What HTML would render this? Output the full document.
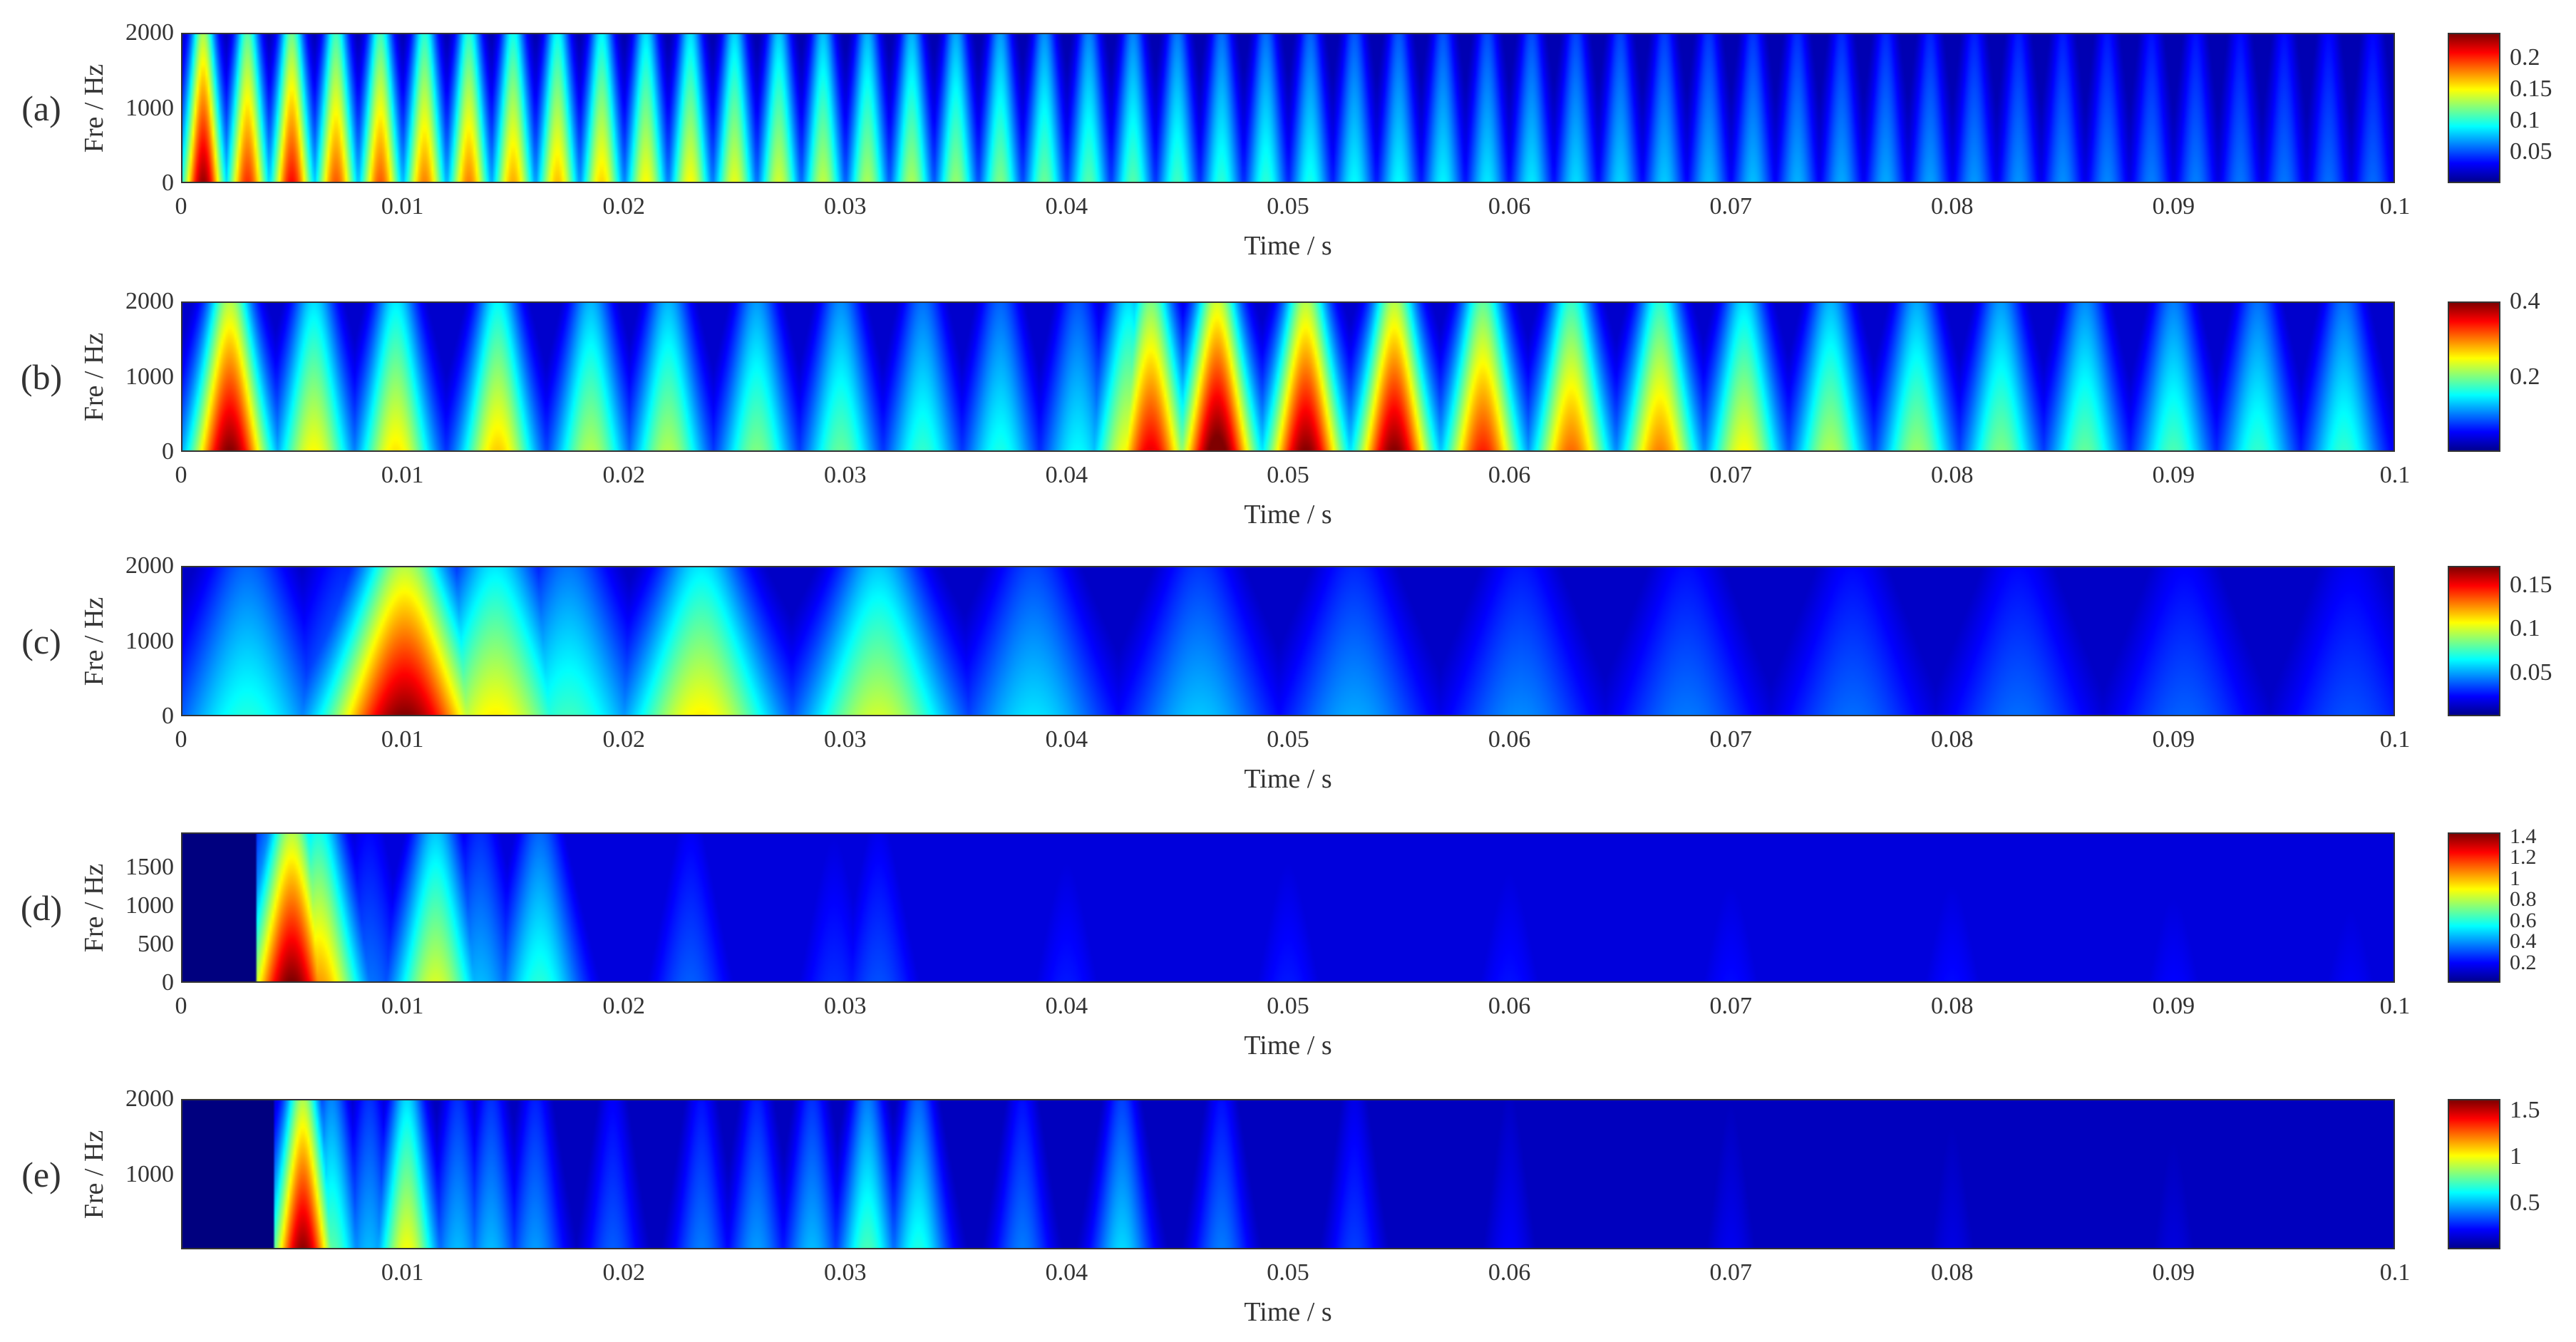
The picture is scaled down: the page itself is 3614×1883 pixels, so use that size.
<!DOCTYPE html>
<html><head><meta charset="utf-8">
<style>
html,body{margin:0;padding:0;background:#fff;}
#root{position:relative;width:3614px;height:1883px;overflow:hidden;font-family:"Liberation Serif",serif;color:#333;}
.t{position:absolute;font-size:36px;white-space:nowrap;line-height:1;}
canvas{position:absolute;}
.frame{position:absolute;border:2px solid #333;box-sizing:border-box;}
</style></head>
<body><div id="root"></div>
<script>
// ---------- data ----------
const timeTicks=[0,0.01,0.02,0.03,0.04,0.05,0.06,0.07,0.08,0.09,0.1];
// panel a
const aTimes=[0.001,0.003,0.005,0.007,0.009,0.011,0.013,0.015,0.017,0.019,0.021,0.023,0.025,0.027,0.029,0.031,0.033,0.035,0.037,0.039,0.041,0.043,0.045,0.047,0.049,0.051,0.053,0.055,0.057,0.059,0.061,0.063,0.065,0.067,0.069,0.071,0.073,0.075,0.077,0.079,0.081,0.083,0.085,0.087,0.089,0.091,0.093,0.095,0.097,0.099];
const aAmps=[0.235,0.2,0.21,0.19,0.19,0.18,0.18,0.17,0.165,0.16,0.15,0.15,0.145,0.14,0.135,0.13,0.13,0.125,0.12,0.115,0.11,0.11,0.105,0.1,0.1,0.095,0.09,0.09,0.088,0.085,0.085,0.082,0.08,0.078,0.075,0.075,0.072,0.07,0.07,0.068,0.066,0.065,0.064,0.062,0.06,0.06,0.058,0.058,0.056,0.055];
// panel b
const bTimes=[0.0022,0.006,0.0097,0.0143,0.0185,0.022,0.026,0.0298,0.0335,0.037,0.0405,0.0428,0.0438,0.0468,0.0508,0.0548,0.0588,0.0628,0.0668,0.0706,0.0745,0.0784,0.0822,0.086,0.09,0.0938,0.0977];
const bAmps=[0.4,0.25,0.26,0.27,0.22,0.22,0.2,0.19,0.17,0.16,0.15,0.25,0.36,0.42,0.4,0.4,0.34,0.31,0.3,0.25,0.22,0.21,0.2,0.19,0.18,0.17,0.17];
// panel c
const cTimes=[0.003,0.0075,0.0101,0.0142,0.0175,0.0235,0.0315,0.0385,0.046,0.053,0.0605,0.068,0.0755,0.083,0.0905,0.098];
const cAmps=[0.07,0.05,0.172,0.11,0.075,0.11,0.1,0.06,0.055,0.05,0.045,0.042,0.04,0.04,0.038,0.035];
// panel d
const dTimes=[0.0042,0.005,0.0062,0.0085,0.0115,0.0135,0.0162,0.023,0.0295,0.0315,0.04,0.05,0.06,0.07,0.08,0.09,0.098];
const dAmps=[0.7,1.45,1.05,0.35,0.85,0.45,0.6,0.32,0.25,0.3,0.22,0.22,0.21,0.2,0.2,0.19,0.18];
// panel e
const eTimes=[0.0055,0.0068,0.0085,0.0102,0.0125,0.014,0.016,0.0195,0.0235,0.026,0.0285,0.031,0.0333,0.038,0.0425,0.047,0.053,0.06,0.07,0.08,0.09];
const eAmps=[1.6,0.75,0.5,1.0,0.5,0.5,0.45,0.35,0.4,0.45,0.5,0.72,0.65,0.4,0.55,0.4,0.3,0.2,0.18,0.16,0.15];
// colorbar ticks
const cbTicksA=[0.05,0.1,0.15,0.2], cbTicksB=[0.2,0.4], cbTicksC=[0.05,0.1,0.15], cbTicksD=[0.2,0.4,0.6,0.8,1,1.2,1.4], cbTicksE=[0.5,1,1.5];
const yTicksA=[0,1000,2000], yTicksD=[0,500,1000,1500], yTicksE=[1000,2000];

const panels=[
 {id:'a',top:46,times:aTimes,amps:aAmps,sig:0.00075,base:0.012,start:0,cmin:0,cmax:0.24,fmax:2000,yt:yTicksA,cb:cbTicksA,xt:timeTicks},
 {id:'b',top:423,times:bTimes,amps:bAmps,sig:0.0014,base:0.03,start:0,cmin:0,cmax:0.4,fmax:2000,yt:yTicksA,cb:cbTicksB,xt:timeTicks},
 {id:'c',top:794,times:cTimes,amps:cAmps,sig:0.0028,base:0.012,start:0,cmin:0,cmax:0.172,fmax:2000,yt:yTicksA,cb:cbTicksC,xt:timeTicks},
 {id:'d',top:1168,times:dTimes,amps:dAmps,sig:0.0016,base:0.14,start:0.0037,cmin:0.01,cmax:1.44,fmax:1950,yt:yTicksD,cb:cbTicksD,xt:timeTicks},
 {id:'e',top:1542,times:eTimes,amps:eAmps,sig:0.0011,base:0.1,start:0.0045,cmin:0,cmax:1.62,fmax:2000,yt:yTicksE,cb:cbTicksE,xt:timeTicks.slice(1)}
];
// ---------- layout ----------
const X0=254,X1=3360,H=211,CB0=3434,CB1=3508;
const xs=t=>X0+(X1-X0)*t/0.1;
function jet(v){v=Math.max(0,Math.min(1,v));
 const r=Math.max(0,Math.min(1,Math.min(4*v-1.5,-4*v+4.5)));
 const g=Math.max(0,Math.min(1,Math.min(4*v-0.5,-4*v+3.5)));
 const b=Math.max(0,Math.min(1,Math.min(4*v+0.5,-4*v+2.5)));
 return [r*255|0,g*255|0,b*255|0];}
const root=document.getElementById('root');
function txt(s,x,y,align,name,size,extra){const d=document.createElement('div');d.className='t';d.textContent=s;
 d.style.left=x+'px';d.style.top=y+'px';if(size)d.style.fontSize=size+'px';
 d.style.transform=(align==='c'?'translate(-50%,-50%)':align==='r'?'translate(-100%,-50%)':'translate(0,-50%)')+(extra||'');
 
 
 root.appendChild(d);return d;}
panels.forEach(p=>{
 const W=1000,Hc=60;
 const cv=document.createElement('canvas');cv.width=W;cv.height=Hc;
 cv.style.left=X0+'px';cv.style.top=p.top+'px';cv.style.width=(X1-X0)+'px';cv.style.height=H+'px';
 
 
 root.appendChild(cv);
 const ctx=cv.getContext('2d');const img=ctx.createImageData(W,Hc);
 for(let j=0;j<Hc;j++){const fr=1-(j+0.5)/Hc;
  for(let i=0;i<W;i++){const t=(i+0.5)/W*0.1;let v=p.start>0&&t<p.start?p.cmin:p.base;
   if(!(p.start>0&&t<p.start-0.0003)){
    for(let k=0;k<p.times.length;k++){const s=p.sig*(1.15-0.5*fr);const d=(t-p.times[k])/s;
     if(Math.abs(d)>5)continue;const val=p.amps[k]*(0.72*Math.exp(-d*d)+0.28*Math.exp(-d*d/4))*(1-0.45*fr);if(val>v)v=val;}}
   const c=jet((v-p.cmin)/(p.cmax-p.cmin));const o=(j*W+i)*4;
   img.data[o]=c[0];img.data[o+1]=c[1];img.data[o+2]=c[2];img.data[o+3]=255;}}
 ctx.putImageData(img,0,0);
 const fr=document.createElement('div');fr.className='frame';fr.style.left=X0+'px';fr.style.top=p.top+'px';fr.style.width=(X1-X0)+'px';fr.style.height=H+'px';
 
 
 root.appendChild(fr);
 p.yt.forEach(v=>{const y=p.top+H-H*v/p.fmax;txt(String(v),244,y,'r','y-tick-label',34);});
 p.xt.forEach(v=>{txt(String(v),xs(v),p.top+H+33,'c','x-tick-label',34);});
 txt('Time / s',(X0+X1)/2,p.top+H+88,'c','x-axis-title',38);
 txt('Fre / Hz',132,p.top+H/2,'c','y-axis-title',38,' rotate(-90deg)');
 txt('('+p.id+')',58,p.top+H/2,'c','panel-label-'+p.id,50);
 const cb=document.createElement('div');cb.style.position='absolute';cb.style.left=CB0+'px';cb.style.top=p.top+'px';
 cb.style.width=(CB1-CB0)+'px';cb.style.height=H+'px';cb.style.border='2px solid #333';cb.style.boxSizing='border-box';
 cb.style.background='linear-gradient(to top,#00008f,#0000ff 12.5%,#00ffff 37.5%,#ffff00 62.5%,#ff0000 87.5%,#800000)';
 
 
 root.appendChild(cb);
 p.cb.forEach(v=>{const y=p.top+H-H*(v-p.cmin)/(p.cmax-p.cmin);txt(String(v),3521,y,'l','colorbar-tick-label',p.id==='d'?30:34);});
});
</script></body></html>
